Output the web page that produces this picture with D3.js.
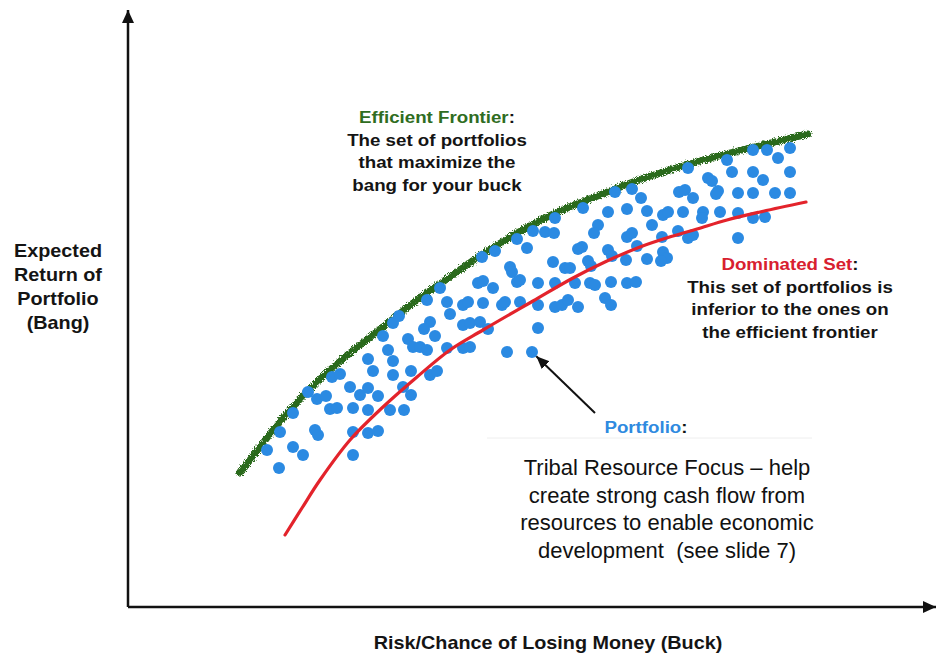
<!DOCTYPE html>
<html>
<head>
<meta charset="utf-8">
<script src="https://cdn.jsdelivr.net/npm/d3@7/dist/d3.min.js"></script>
<style>
  html, body { margin: 0; padding: 0; background: #fff; }
  svg { display: block; }
</style>
</head>
<body>
<svg id="chart" width="941" height="663"></svg>
<script>
// Efficient frontier (upper bound of attainable portfolios)
const frontierRisk   = [112, 122, 155, 189, 222, 255, 289, 322, 355, 419, 472, 505, 572, 639, 680];
const frontierReturn = [134, 147, 189, 225, 254, 280, 307, 330, 353, 390, 412, 425, 446, 463, 473];

// Dominated set (lower curve)
const dominatedRisk   = [157, 174, 192, 222, 255, 289, 322, 355, 405, 445, 479, 512, 545, 569, 599, 632, 678];
const dominatedReturn = [ 72,  99, 127, 167, 200, 230, 257, 277, 306, 329, 346, 360, 371, 378, 387, 395, 405];

// Individual portfolios: risk (buck) and expected return (bang)
const portfolioRisk = [
  151, 139, 165, 175, 225, 152, 187, 190, 225, 240, 250, 165, 202, 209, 225, 240, 262, 276,
  180, 189, 198, 222, 232, 240, 250, 275, 283, 204, 212, 240, 245, 265, 283, 302, 309, 265,
  260, 255, 280, 285, 292, 299, 319, 335, 342, 265, 271, 302, 296, 307, 299, 319, 322, 335,
  340, 355, 374, 377, 392, 410, 427, 434, 440, 450, 477, 483, 335, 342, 352, 360, 410, 379,
  404, 312, 350, 355, 365, 389, 392, 410, 354, 367, 382, 384, 389, 399, 405, 417, 426, 427,
  425, 437, 442, 427, 447, 462, 467, 483, 499, 508, 454, 450, 460, 463, 470, 466, 480, 484,
  498, 519, 499, 504, 509, 455, 480, 499, 519, 487, 504, 513, 524, 534, 535, 539, 533, 535,
  540, 551, 557, 560, 555, 565, 575, 574, 580, 584, 590, 588, 592, 599, 604, 610, 610, 625,
  639, 662, 650, 625, 662, 635, 625, 647, 662, 625, 637, 550, 560, 565, 610
];
const portfolioReturn = [
  139, 157, 160, 152, 152, 175, 177, 172, 175, 174, 176, 194, 198, 199, 199, 197, 197, 197,
  215, 208, 211, 220, 212, 219, 211, 220, 212, 230, 233, 248, 236, 232, 236, 232, 236, 246,
  257, 271, 268, 260, 260, 257, 259, 259, 260, 284, 291, 285, 278, 271, 307, 305, 293, 302,
  305, 304, 302, 305, 305, 302, 300, 302, 307, 300, 309, 302, 282, 284, 285, 278, 279, 255,
  255, 319, 324, 326, 319, 325, 327, 324, 350, 356, 340, 335, 368, 359, 376, 375, 374, 389,
  345, 339, 339, 324, 324, 324, 322, 325, 324, 325, 360, 358, 346, 341, 382, 374, 357, 351,
  347, 348, 370, 374, 361, 399, 395, 398, 396, 415, 418, 409, 382, 370, 355, 349, 346, 392,
  395, 415, 417, 439, 395, 409, 395, 389, 429, 426, 416, 413, 395, 447, 435, 414, 394, 457,
  457, 459, 449, 435, 435, 427, 414, 414, 414, 389, 390, 376, 369, 372, 369
];

// The portfolio singled out by the callout arrow
const calloutRisk = 404, calloutReturn = 255;

const svg = d3.select("#chart");
const W = 941, H = 663;

const x = d3.scaleLinear().domain([0, 808]).range([128, 936]);
const y = d3.scaleLinear().domain([0, 597]).range([607, 10]);

const defs = svg.append("defs");
defs.append("marker")
  .attr("id", "axisHead")
  .attr("markerUnits", "userSpaceOnUse")
  .attr("markerWidth", 14).attr("markerHeight", 12)
  .attr("refX", 13).attr("refY", 6)
  .attr("orient", "auto")
  .append("path").attr("d", "M0,0 L13,6 L0,12 Z").attr("fill", "#111");
defs.append("marker")
  .attr("id", "pointerHead")
  .attr("markerUnits", "userSpaceOnUse")
  .attr("markerWidth", 14).attr("markerHeight", 12)
  .attr("refX", 13).attr("refY", 5.5)
  .attr("orient", "auto")
  .append("path").attr("d", "M0,0 L13,5.5 L0,11 Z").attr("fill", "#111");

// Brushed, ragged edge for the frontier stroke
const rough = defs.append("filter").attr("id", "rough")
  .attr("x", "-5%").attr("y", "-5%").attr("width", "110%").attr("height", "110%");
rough.append("feTurbulence").attr("type", "fractalNoise").attr("baseFrequency", 1.1)
  .attr("numOctaves", 2).attr("seed", 3).attr("result", "noise");
rough.append("feDisplacementMap").attr("in", "SourceGraphic").attr("in2", "noise")
  .attr("scale", 6).attr("xChannelSelector", "R").attr("yChannelSelector", "G");

svg.append("rect").attr("width", W).attr("height", H).attr("fill", "#fff");

// Axes with arrowheads
svg.append("line")
  .attr("x1", x.range()[0]).attr("y1", y.range()[0])
  .attr("x2", x.range()[1]).attr("y2", y.range()[0])
  .attr("stroke", "#111").attr("stroke-width", 2.5)
  .attr("marker-end", "url(#axisHead)");
svg.append("line")
  .attr("x1", x.range()[0]).attr("y1", y.range()[0])
  .attr("x2", x.range()[0]).attr("y2", y.range()[1])
  .attr("stroke", "#111").attr("stroke-width", 2.5)
  .attr("marker-end", "url(#axisHead)");

const line = d3.line().x(d => x(d[0])).y(d => y(d[1])).curve(d3.curveCatmullRom.alpha(0.5));

// Efficient frontier
const frontier = frontierRisk.map((r, i) => [r, frontierReturn[i]]);
svg.append("path")
  .attr("d", line(frontier))
  .attr("fill", "none")
  .attr("stroke", "#2b6a1d")
  .attr("stroke-width", 7)
  .attr("stroke-linecap", "round")
  .attr("filter", "url(#rough)");

// Portfolios
const portfolios = portfolioRisk.map((r, i) => [r, portfolioReturn[i]]);
svg.append("g").selectAll("circle")
  .data(portfolios)
  .join("circle")
  .attr("cx", d => x(d[0]))
  .attr("cy", d => y(d[1]))
  .attr("r", 6)
  .attr("fill", "#2b8ae2");

// Dominated set
const dominated = dominatedRisk.map((r, i) => [r, dominatedReturn[i]]);
svg.append("path")
  .attr("d", line(dominated))
  .attr("fill", "none")
  .attr("stroke", "#e3232b")
  .attr("stroke-width", 3.2)
  .attr("stroke-linecap", "round");

// Callout arrow pointing at one portfolio
const cx0 = x(calloutRisk), cy0 = y(calloutReturn);
const tail = [cx0 + 63, cy0 + 61];
const ang = Math.atan2(tail[1] - cy0, tail[0] - cx0);
svg.append("line")
  .attr("x1", tail[0]).attr("y1", tail[1])
  .attr("x2", cx0 + 6 * Math.cos(ang)).attr("y2", cy0 + 6 * Math.sin(ang))
  .attr("stroke", "#111").attr("stroke-width", 2)
  .attr("marker-end", "url(#pointerHead)");

// Text helpers
const boldFont = "'Liberation Sans', Arial, Helvetica, sans-serif";
function boldBlock(cx, baseline, lineH, size, sx, lines) {
  lines.forEach((segs, i) => {
    const t = svg.append("text")
      .attr("transform", `translate(${cx},${baseline + i * lineH}) scale(${sx},1)`)
      .attr("text-anchor", "middle")
      .attr("font-family", boldFont)
      .attr("font-weight", "bold")
      .attr("font-size", size);
    segs.forEach(([txt, col]) => t.append("tspan").attr("fill", col).text(txt));
  });
}

const ink = "#141414";
const green = "#2f6d22";
const red = "#d8202f";
const blue = "#2f8ae0";

// Axis titles
boldBlock(58, 257, 24, 18, 1.1, [
  [["Expected", ink]], [["Return of", ink]], [["Portfolio", ink]], [["(Bang)", ink]]
]);
boldBlock(548, 649, 24, 18, 1.1, [
  [["Risk/Chance of Losing Money (Buck)", ink]]
]);

// Annotations
boldBlock(437, 123, 22.5, 17, 1.1, [
  [["Efficient Frontier", green], [":", ink]],
  [["The set of portfolios", ink]],
  [["that maximize the", ink]],
  [["bang for your buck", ink]]
]);
boldBlock(790, 270, 22.7, 17, 1.1, [
  [["Dominated Set", red], [":", ink]],
  [["This set of portfolios is", ink]],
  [["inferior to the ones on", ink]],
  [["the efficient frontier", ink]]
]);

// Faint edge of the caption box
svg.append("line")
  .attr("x1", 487).attr("x2", 812).attr("y1", 438).attr("y2", 438)
  .attr("stroke", "#eeeeee").attr("stroke-width", 1);

boldBlock(646, 433, 22, 17, 1.1, [
  [["Portfolio", blue], [":", ink]]
]);

const caption = [
  "Tribal Resource Focus \u2013 help",
  "create strong cash flow from",
  "resources to enable economic",
  "development  (see slide 7)"
];
svg.append("g").selectAll("text")
  .data(caption)
  .join("text")
  .attr("x", 667)
  .attr("y", (d, i) => 475 + i * 27.5)
  .attr("text-anchor", "middle")
  .attr("font-family", boldFont)
  .attr("font-size", 22)
  .attr("fill", "#111")
  .attr("xml:space", "preserve")
  .style("white-space", "pre")
  .text(d => d);
</script>
</body>
</html>
